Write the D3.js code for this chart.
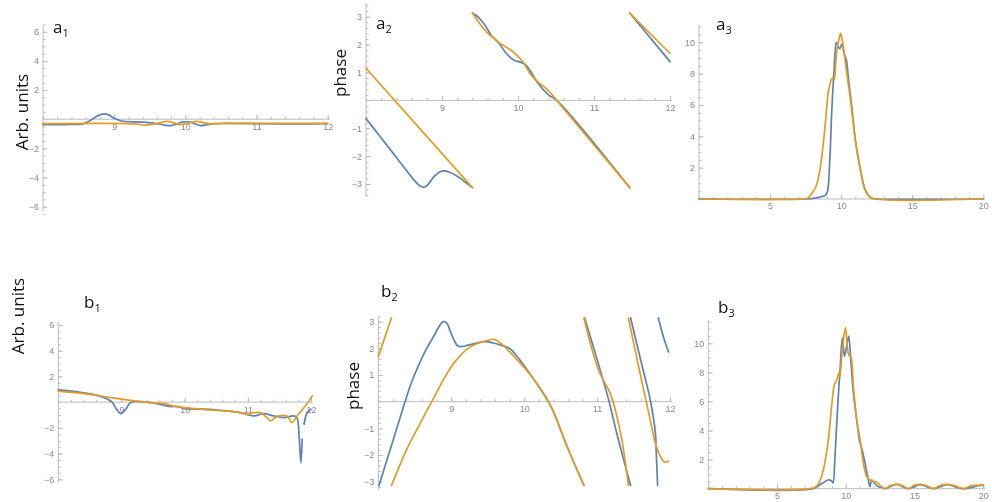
<!DOCTYPE html>
<html><head><meta charset="utf-8">
<script src="https://cdn.jsdelivr.net/npm/d3@7"></script>
<style>
body{margin:0;background:#fff;}
svg{display:block;will-change:transform;}
text{-webkit-font-smoothing:antialiased;}
</style></head><body>
<svg id="fig" width="992" height="502"></svg>
<script>
// ---- signal field (a1, b1): amplitude vs x ----
const a1Blue = [[8,-0.38],[8.3,-0.37],[8.57,-0.3],[8.66,-0.1],[8.73,0.12],[8.8,0.3],[8.86,0.37],[8.93,0.28],[8.99,0.08],[9.06,-0.05],[9.13,-0.14],[9.41,-0.2],[9.6,-0.3],[9.72,-0.42],[9.8,-0.44],[9.88,-0.32],[9.95,-0.2],[10.07,-0.2],[10.14,-0.33],[10.21,-0.44],[10.3,-0.38],[10.4,-0.3],[10.68,-0.28],[11,-0.3],[11.5,-0.32],[12,-0.3]];
const a1Orange = [[8,-0.3],[9.18,-0.3],[9.3,-0.33],[9.46,-0.4],[9.6,-0.3],[9.74,-0.15],[9.84,-0.25],[9.93,-0.37],[10.04,-0.28],[10.16,-0.15],[10.26,-0.24],[10.35,-0.32],[10.5,-0.3],[12,-0.28]];

const b1Blue = [[8,0.95],[8.3,0.8],[8.6,0.55],[8.75,0.3],[8.85,0.0],[8.93,-0.6],[8.99,-0.89],[9.06,-0.6],[9.13,-0.1],[9.2,0.05],[9.4,0.0],[9.6,-0.15],[9.75,-0.33],[9.9,-0.35],[10.0,-0.5],[10.3,-0.55],[10.6,-0.65],[10.88,-0.81],[11.1,-1.07],[11.25,-0.89],[11.41,-1.07],[11.57,-1.2],[11.73,-1.07],[11.78,-1.25],[11.81,-2.5],[11.84,-4.72],[11.86,-2.89],null,[11.89,-1.72],[11.94,-0.81],[12.0,-0.55]];
const b1Orange = [[8,0.85],[8.5,0.6],[8.82,0.36],[9.2,0.1],[9.5,-0.05],[9.7,-0.12],[9.8,-0.28],[10.0,-0.42],[10.4,-0.6],[10.87,-0.81],[10.99,-0.97],[11.06,-0.85],[11.2,-0.81],[11.28,-1.1],[11.36,-1.46],[11.43,-1.2],[11.49,-1.07],[11.62,-1.07],[11.7,-1.59],[11.78,-1.07],[11.89,-0.42],[11.97,0.1],[12.02,0.49]];

// ---- phase (a2, b2), wrapped to [-pi, pi]; null breaks the curve at each wrap ----
const a2Blue = [[8,-0.65],[8.18,-1.28],[8.36,-1.91],[8.54,-2.54],[8.62,-2.82],[8.68,-3.0],[8.73,-3.1],[8.78,-3.1],[8.83,-2.97],[8.9,-2.72],[8.97,-2.57],[9.03,-2.53],[9.1,-2.58],[9.2,-2.72],[9.3,-2.92],[9.4,-3.13],null,[9.4,3.13],[9.48,2.98],[9.57,2.68],[9.65,2.32],[9.74,2.08],[9.85,1.67],[9.94,1.45],[10.03,1.37],[10.09,1.3],[10.16,1.07],[10.26,0.62],[10.4,0.2],[10.51,0],[11.47,-3.13],null,[11.47,3.13],[12,1.39]];
const a2Orange = [[8,1.15],[9.4,-3.13],null,[9.4,3.13],[9.5,2.74],[9.61,2.38],[9.68,2.24],[9.74,2.08],[9.85,1.9],[9.94,1.73],[10.03,1.49],[10.09,1.28],[10.16,0.95],[10.26,0.66],[10.36,0.45],[10.45,0.2],[10.51,0],[11.47,-3.13],null,[11.47,3.13],[12,1.69]];

const b2Blue = [[8.01,-3.14],[8.1,-2.35],[8.2,-1.47],[8.36,-0.06],[8.45,0.68],[8.55,1.35],[8.66,1.98],[8.77,2.5],[8.84,2.85],[8.89,3.0],[8.94,2.95],[8.98,2.69],[9.04,2.3],[9.09,2.09],[9.15,2.07],[9.23,2.12],[9.35,2.2],[9.46,2.25],[9.58,2.2],[9.68,2.12],[9.8,2.0],[9.88,1.78],[9.96,1.5],[10.14,0.81],[10.37,-0.19],[10.59,-1.69],[10.82,-3.14],null,[10.83,3.14],[11.07,0.94],[11.16,0.06],[11.27,-1.18],[11.46,-3.14],null,[11.46,3.14],[11.62,1.31],[11.73,0.06],[11.8,-1.18],[11.81,-1.81],[11.83,-3.14],null,[11.84,3.14],[11.91,2.43],[11.98,1.87]];
const b2Orange = [[8.0,1.69],[8.18,3.14],null,[8.18,-3.14],[8.25,-2.68],[8.32,-2.22],[8.43,-1.56],[8.55,-0.94],[8.66,-0.36],[8.77,0.19],[8.88,0.76],[9.0,1.31],[9.12,1.72],[9.23,2.0],[9.35,2.17],[9.46,2.27],[9.59,2.34],[9.68,2.19],[9.91,1.56],[10.14,0.81],[10.37,-0.19],[10.59,-1.69],[10.82,-3.14],null,[10.82,3.14],[11.02,1.19],[11.18,0.31],[11.25,-0.31],[11.34,-1.43],[11.43,-3.14],null,[11.43,3.14],[11.57,1.31],[11.67,0.06],[11.73,-0.69],[11.8,-1.56],[11.87,-2.06],[11.93,-2.27],[11.98,-2.22]];

// ---- spectra (a3, b3) ----
const a3Blue = [[0,0],[7.5,0],[8,0.03],[8.5,0.12],[8.9,0.25],[9.04,0.5],[9.2,2.5],[9.34,5.6],[9.5,8.2],[9.66,10.0],[9.8,9.7],[9.9,9.6],[10.07,9.9],[10.2,9.3],[10.36,8.9],[10.52,7.6],[10.75,5.9],[11.0,3.76],[11.36,1.85],[11.7,0.57],[12.17,0.04],[12.6,0],[20,0]];
const a3Orange = [[0,0],[7.4,0],[7.64,0.05],[7.9,0.3],[8.23,0.8],[8.5,1.8],[8.75,3.6],[8.93,5.25],[9.1,6.9],[9.16,7.1],[9.3,7.6],[9.39,7.7],[9.5,7.6],[9.62,8.7],[9.73,9.7],[9.85,10.2],[9.96,10.57],[10.08,10.1],[10.19,9.5],[10.3,8.7],[10.43,7.8],[10.66,6.3],[11.0,3.76],[11.36,1.85],[11.7,0.57],[12.0,0.15],[12.4,0],[20,0]];

const b3Blue = [[0,0],[7.6,0],[8.1,0.26],[8.5,0.5],[8.7,0.6],[8.95,0.55],[9.07,0.4],[9.2,1.97],[9.33,4.28],[9.45,6.3],[9.57,7.96],[9.75,10.37],[9.9,9.1],[10.06,9.8],[10.21,10.5],[10.36,8.87],[10.55,6.6],[10.8,4.7],[11.0,3.3],[11.16,2.78],[11.4,1.75],[11.6,0.8],[11.76,0.14],[11.88,0.6],[12.1,0.37],[12.36,0.14],[12.6,0.1],[12.85,0],[13.7,0.3],[14.55,0],[15.4,0.28],[16.4,0],[17.33,0.28],[18.55,0],[19.76,0.23],[20,0.23]];
const b3Orange = [[0,0],[7.4,0],[7.88,0.18],[8.1,0.5],[8.37,1.3],[8.55,2.2],[8.73,3.36],[8.97,5.66],[9.1,6.8],[9.17,7.15],[9.38,7.6],[9.5,7.96],[9.57,7.7],[9.75,9.6],[9.97,11.06],[10.11,9.8],[10.21,9.2],[10.36,9.1],[10.55,7.04],[10.8,4.7],[11.04,3.36],[11.28,1.75],[11.52,0.83],[11.76,0.6],[12.0,0.48],[12.24,0.48],[12.48,0.25],[12.85,0],[13.25,0.22],[13.7,0.32],[14.15,0.2],[14.55,0],[14.95,0.22],[15.4,0.3],[15.9,0.2],[16.4,0],[16.85,0.22],[17.33,0.3],[17.95,0.2],[18.55,0],[19.1,0.2],[19.76,0.25],[20,0.25]];

// ---- tick labels ----
const fieldXTicks = [9, 10, 11, 12];
const fieldYTicks = [-6, -4, -2, 2, 4, 6];
const phaseXTicks = [9, 10, 11, 12];
const phaseYTicks = [-3, -2, -1, 1, 2, 3];
const specXTicks = [5, 10, 15, 20];
const specYTicks = [2, 4, 6, 8, 10];

const svg = d3.select("#fig");
const BLUE = "#5e81b5", ORANGE = "#e19c24";
const AXIS = "#bcbcbc", TICKTXT = "#8a8a8a";
const fmt = d => (d < 0 ? "\u2212" + Math.abs(d) : String(d));

function steps(a, b, s) {
  const out = [];
  for (let i = 0; a + i * s <= b + 1e-9; i++) out.push(+(a + i * s).toFixed(4));
  return out;
}

function panel(p) {
  const g = svg.append("g");
  const x = d3.scaleLinear().domain(p.xDomain).range(p.xRange);
  const y = d3.scaleLinear().domain(p.yDomain).range(p.yRange);

  // horizontal axis through y = 0
  const xa = g.append("g").attr("transform", `translate(0,${y(0)})`);
  xa.call(d3.axisBottom(x).tickValues(p.xMinor).tickSize(-2.5).tickFormat(""));
  xa.call(g2 => g2.append("g").call(d3.axisBottom(x).tickValues(p.xTicks).tickSize(-4.5).tickPadding(4).tickFormat(fmt)));
  xa.selectAll(".domain").remove();
  xa.append("line").attr("x1", x(p.xExtent[0])).attr("x2", x(p.xExtent[1])).attr("stroke", AXIS);

  // vertical axis at left edge of the x-range
  const ya = g.append("g").attr("transform", `translate(${x(p.xDomain[0])},0)`);
  ya.call(d3.axisLeft(y).tickValues(p.yMinor).tickSize(-2.5).tickFormat(""));
  ya.call(g2 => g2.append("g").call(d3.axisLeft(y).tickValues(p.yTicks).tickSize(-4.5).tickPadding(4).tickFormat(fmt)));
  ya.selectAll(".domain").remove();
  ya.append("line").attr("y1", y(p.yExtent[0])).attr("y2", y(p.yExtent[1])).attr("stroke", AXIS);

  g.selectAll(".tick line").attr("stroke", AXIS);
  g.selectAll(".tick text").attr("fill", TICKTXT)
    .attr("font-family", "'Liberation Sans', Arial, sans-serif").attr("font-size", 9);

  const line = d3.line().defined(d => d != null)
    .x(d => x(d[0])).y(d => y(d[1]))
    .curve(d3.curveCatmullRom.alpha(0.5));
  [[p.blue, BLUE], [p.orange, ORANGE]].forEach(([data, c]) => {
    g.append("path").datum(data).attr("d", line)
      .attr("fill", "none").attr("stroke", c).attr("stroke-width", 1.7)
      .attr("stroke-linejoin", "round").attr("stroke-linecap", "round");
  });

  // panel tag, e.g. a with subscript 1
  const t = svg.append("text").attr("x", p.tag[2]).attr("y", p.tag[3])
    .attr("font-family", "'Open Sans', sans-serif").attr("font-size", 17).attr("fill", "#111");
  t.append("tspan").text(p.tag[0]);
  t.append("tspan").attr("font-size", 11).attr("dy", 4).text(p.tag[1]);

  if (p.ylabel) {
    svg.append("text")
      .attr("transform", `translate(${p.ylabel[1]},${p.ylabel[2]}) rotate(-90)`)
      .attr("text-anchor", "middle")
      .attr("font-family", "'Open Sans', sans-serif").attr("font-size", 17).attr("fill", "#111")
      .text(p.ylabel[0]);
  }
}

panel({ xDomain: [8, 12], xRange: [43, 327.7], yDomain: [-6, 6], yRange: [206.7, 31.7],
  xExtent: [8, 12.03], yExtent: [-6.35, 6.45],
  xTicks: fieldXTicks, yTicks: fieldYTicks, xMinor: steps(8, 12, 0.2), yMinor: steps(-6.5, 6.5, 0.5),
  blue: a1Blue, orange: a1Orange, tag: ["a", "1", 53, 33], ylabel: ["Arb. units", 28, 112] });

panel({ xDomain: [8, 12], xRange: [366, 670], yDomain: [-3, 3], yRange: [184, 16.7],
  xExtent: [8, 12.03], yExtent: [-3.47, 3.5],
  xTicks: phaseXTicks, yTicks: phaseYTicks, xMinor: steps(8, 12, 0.2), yMinor: steps(-3.4, 3.4, 0.2),
  blue: a2Blue, orange: a2Orange, tag: ["a", "2", 376, 28.5], ylabel: ["phase", 346, 73] });

panel({ xDomain: [0, 20], xRange: [699, 983.3], yDomain: [0, 10], yRange: [199, 42.3],
  xExtent: [0, 20.1], yExtent: [0, 11.1],
  xTicks: specXTicks, yTicks: specYTicks, xMinor: steps(0, 20, 1), yMinor: steps(0, 11, 0.5),
  blue: a3Blue, orange: a3Orange, tag: ["a", "3", 716, 30] });

panel({ xDomain: [8, 12], xRange: [58.3, 311], yDomain: [-6, 6], yRange: [479.3, 325],
  xExtent: [8, 12.03], yExtent: [-6.25, 6.25],
  xTicks: fieldXTicks, yTicks: fieldYTicks, xMinor: steps(8, 12, 0.2), yMinor: steps(-6, 6, 0.5),
  blue: b1Blue, orange: b1Orange, tag: ["b", "1", 84, 308], ylabel: ["Arb. units", 24, 316] });

panel({ xDomain: [8, 12], xRange: [378.3, 670], yDomain: [-3, 3], yRange: [481.7, 321.7],
  xExtent: [8, 12.03], yExtent: [-3.31, 3.19],
  xTicks: phaseXTicks, yTicks: phaseYTicks, xMinor: steps(8, 12, 0.2), yMinor: steps(-3.2, 3.2, 0.2),
  blue: b2Blue, orange: b2Orange, tag: ["b", "2", 381, 297], ylabel: ["phase", 359, 386] });

panel({ xDomain: [0, 20], xRange: [708.3, 983.3], yDomain: [0, 10], yRange: [488.7, 343.3],
  xExtent: [0, 20.1], yExtent: [0, 11.6],
  xTicks: specXTicks, yTicks: specYTicks, xMinor: steps(0, 20, 1), yMinor: steps(0, 11.5, 0.5),
  blue: b3Blue, orange: b3Orange, tag: ["b", "3", 718, 313] });
</script>
</body></html>
